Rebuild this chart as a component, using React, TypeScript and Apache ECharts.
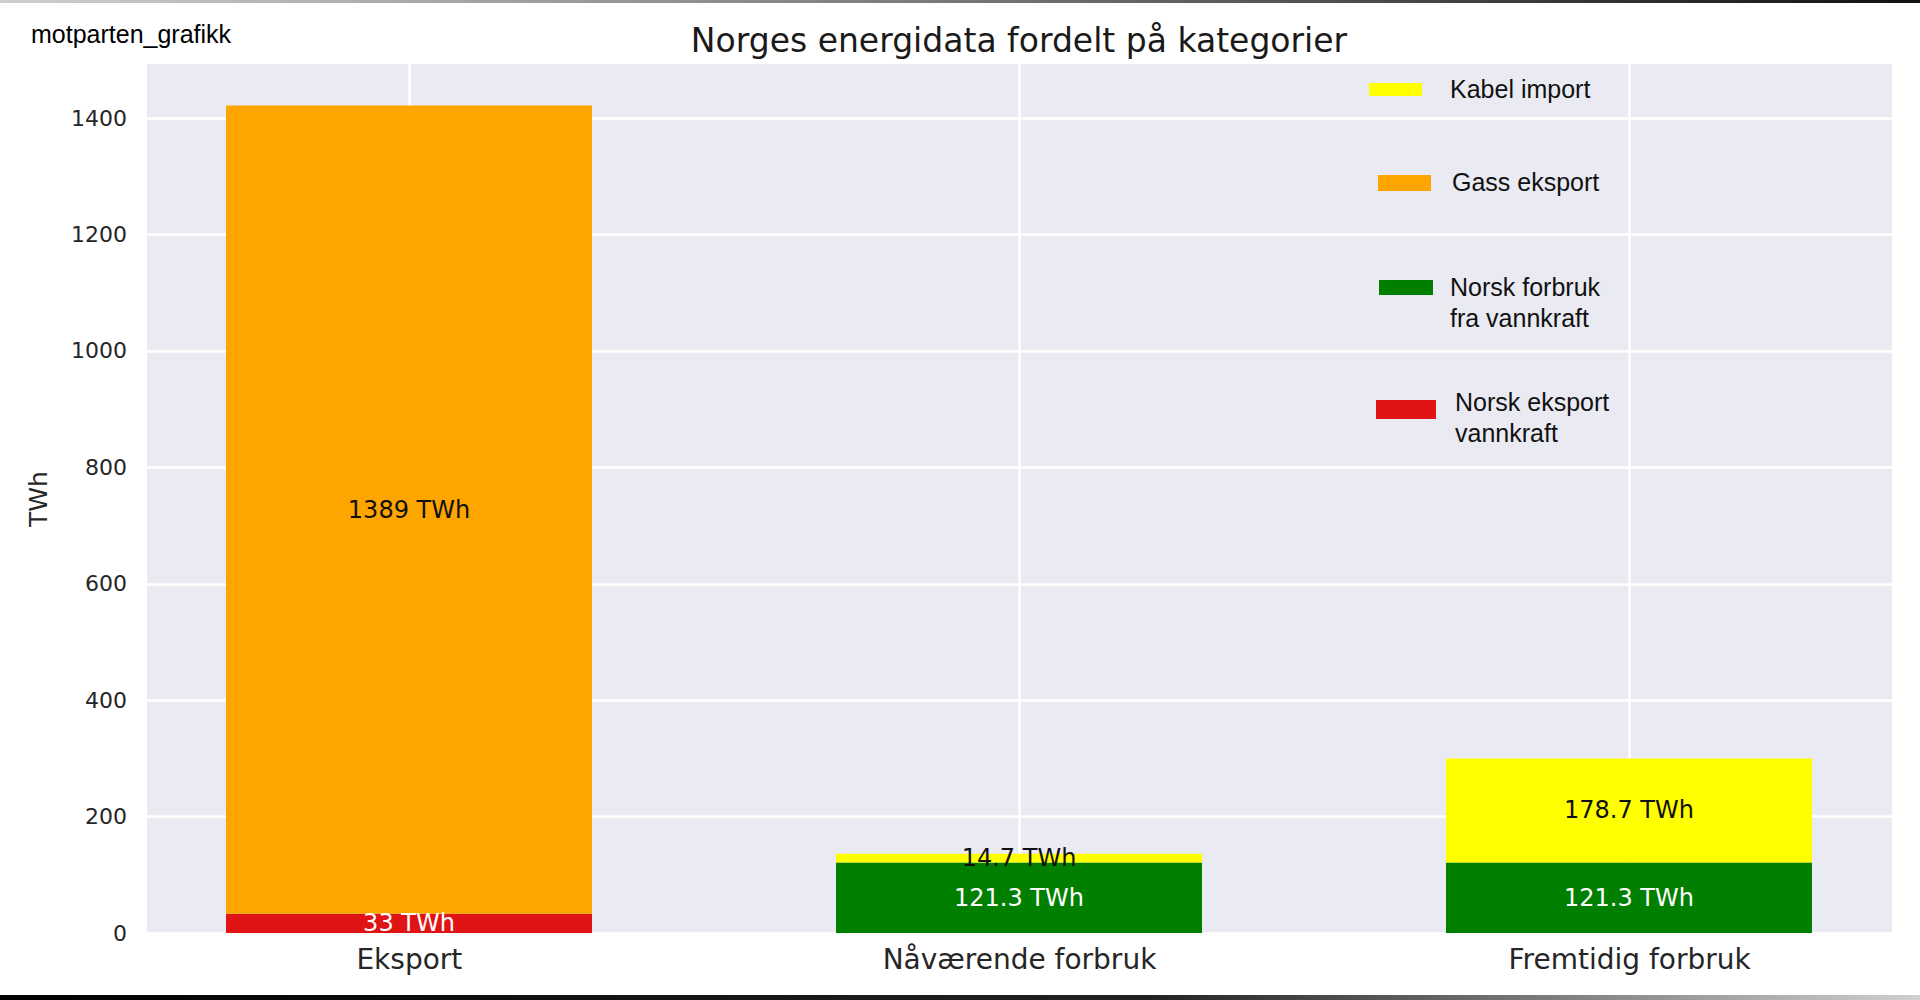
import React, { useEffect, useRef } from "react";
import * as echarts from "echarts";

const categories = ["Eksport", "Nåværende forbruk", "Fremtidig forbruk"];
const seriesNames = ["Norsk eksport vannkraft", "Gass eksport", "Norsk forbruk fra vannkraft", "Kabel import"];
const redValues = [33, 0, 0];
const orangeValues = [1389, 0, 0];
const greenValues = [0, 121.3, 121.3];
const yellowValues = [0, 14.7, 178.7];
const yTicks = [0, 200, 400, 600, 800, 1000, 1200, 1400];
const legendLabels = ["Kabel import", "Gass eksport", "Norsk forbruk\nfra vannkraft", "Norsk eksport\nvannkraft"];
const titleText = "Norges energidata fordelt på kategorier";
const sourceText = "motparten_grafikk";
const yName = "TWh";

const COLORS = { red: "#E01414", orange: "#FFA500", green: "#007F00", yellow: "#FFFF00" };
const DV = "DejaVu Sans";
const LS = "Liberation Sans, Arial";
const Y_MAX = 1493.1;

export default function App() {
  const ref = useRef<HTMLDivElement>(null);
  useEffect(() => {
    if (!ref.current) return;
    const chart = echarts.init(ref.current, undefined, { renderer: "svg" });
    const mkSeries = (name: string, vals: number[], color: string, labelColor: string) => ({
      type: "bar",
      name,
      stack: "total",
      xAxisIndex: 1,
      yAxisIndex: 1,
      barWidth: 366,
      clip: false,
      data: vals,
      itemStyle: { color },
      label: {
        show: true,
        position: "inside",
        color: labelColor,
        fontFamily: DV,
        fontSize: 24,
        formatter: (p: any) => (p.value ? `${p.value} TWh` : ""),
      },
    });

    const legendColors = [COLORS.yellow, COLORS.orange, COLORS.green, COLORS.red];
    const swatches = [
      { x: 1369, y: 83, w: 53, h: 13, tx: 1450, ty: 89 },
      { x: 1378, y: 175, w: 53, h: 16, tx: 1452, ty: 182 },
      { x: 1379, y: 280, w: 54, h: 15, tx: 1450, ty: 302.5 },
      { x: 1376, y: 400, w: 60, h: 19, tx: 1455, ty: 417.5 },
    ];
    const legendGraphics: any[] = [];
    swatches.forEach((s, i) => {
      legendGraphics.push({
        type: "rect",
        shape: { x: s.x, y: s.y, width: s.w, height: s.h },
        style: { fill: legendColors[i] },
        z: 100,
      });
      legendGraphics.push({
        type: "text",
        x: s.tx,
        y: s.ty,
        style: {
          text: legendLabels[i],
          fontFamily: LS,
          fontSize: 25,
          lineHeight: 31,
          fill: "#111",
          textAlign: "left",
          textVerticalAlign: "middle",
        },
        z: 100,
      });
    });

    chart.setOption({
      animation: false,
      backgroundColor: "#ffffff",
      grid: [
        {
          left: 147,
          top: 64,
          width: 1745,
          height: 869,
          show: true,
          backgroundColor: "#EAEAF2",
          borderWidth: 0,
        },
        {
          left: 409,
          top: 64,
          width: 1220,
          height: 869,
          show: false,
        },
      ],
      xAxis: [
        {
          type: "value",
          gridIndex: 0,
          min: -0.43,
          max: 2.43,
          axisLine: { show: false },
          axisTick: { show: false, customValues: [0, 1, 2] },
          axisLabel: {
            customValues: [0, 1, 2],
            formatter: (v: number) => categories[Math.round(v)] ?? "",
            fontFamily: DV,
            fontSize: 28,
            color: "#262626",
            margin: 12,
          },
          splitLine: { show: true, lineStyle: { color: "#ffffff", width: 2.5 } },
        },
        {
          type: "category",
          gridIndex: 1,
          data: categories,
          boundaryGap: false,
          show: false,
        },
      ],
      yAxis: [
        {
          type: "value",
          gridIndex: 0,
          min: 0,
          max: Y_MAX,
          axisLine: { show: false },
          axisTick: { show: false, customValues: yTicks },
          axisLabel: {
            customValues: yTicks,
            formatter: (v: number) => String(v),
            fontFamily: DV,
            fontSize: 22,
            color: "#262626",
            margin: 20,
          },
          splitLine: { show: true, lineStyle: { color: "#ffffff", width: 2.5 } },
        },
        {
          type: "value",
          gridIndex: 1,
          min: 0,
          max: Y_MAX,
          show: false,
          splitLine: { show: false },
        },
      ],
      series: [
        mkSeries(seriesNames[0], redValues, COLORS.red, "#ffffff"),
        mkSeries(seriesNames[1], orangeValues, COLORS.orange, "#111111"),
        mkSeries(seriesNames[2], greenValues, COLORS.green, "#ffffff"),
        mkSeries(seriesNames[3], yellowValues, COLORS.yellow, "#111111"),
      ],
      graphic: [
        {
          type: "rect",
          shape: { x: 0, y: 0, width: 1920, height: 3 },
          style: {
            fill: new echarts.graphic.LinearGradient(0, 0, 1, 0, [
              { offset: 0, color: "#cfcfcf" },
              { offset: 0.5, color: "#777" },
              { offset: 1, color: "#111" },
            ]),
          },
          z: 200,
        },
        {
          type: "rect",
          shape: { x: 0, y: 995, width: 1920, height: 5 },
          style: {
            fill: new echarts.graphic.LinearGradient(0, 0, 1, 0, [
              { offset: 0, color: "#000" },
              { offset: 0.6, color: "#222" },
              { offset: 1, color: "#d0d0d0" },
            ]),
          },
          z: 200,
        },
        {
          type: "text",
          x: 31,
          y: 34,
          style: {
            text: sourceText,
            fontFamily: LS,
            fontSize: 25,
            fill: "#000",
            textAlign: "left",
            textVerticalAlign: "middle",
          },
        },
        {
          type: "text",
          x: 1019,
          y: 40,
          style: {
            text: titleText,
            fontFamily: DV,
            fontSize: 33,
            fill: "#1a1a1a",
            textAlign: "center",
            textVerticalAlign: "middle",
          },
        },
        {
          type: "text",
          x: 38,
          y: 499,
          rotation: Math.PI / 2,
          style: {
            text: yName,
            fontFamily: DV,
            fontSize: 25,
            fill: "#262626",
            textAlign: "center",
            textVerticalAlign: "middle",
          },
        },
        ...legendGraphics,
      ],
    });
    return () => chart.dispose();
  }, []);
  return (
    <div
      ref={ref}
      style={{ position: "absolute", left: 0, top: 0, width: 1920, height: 1000 }}
    />
  );
}
